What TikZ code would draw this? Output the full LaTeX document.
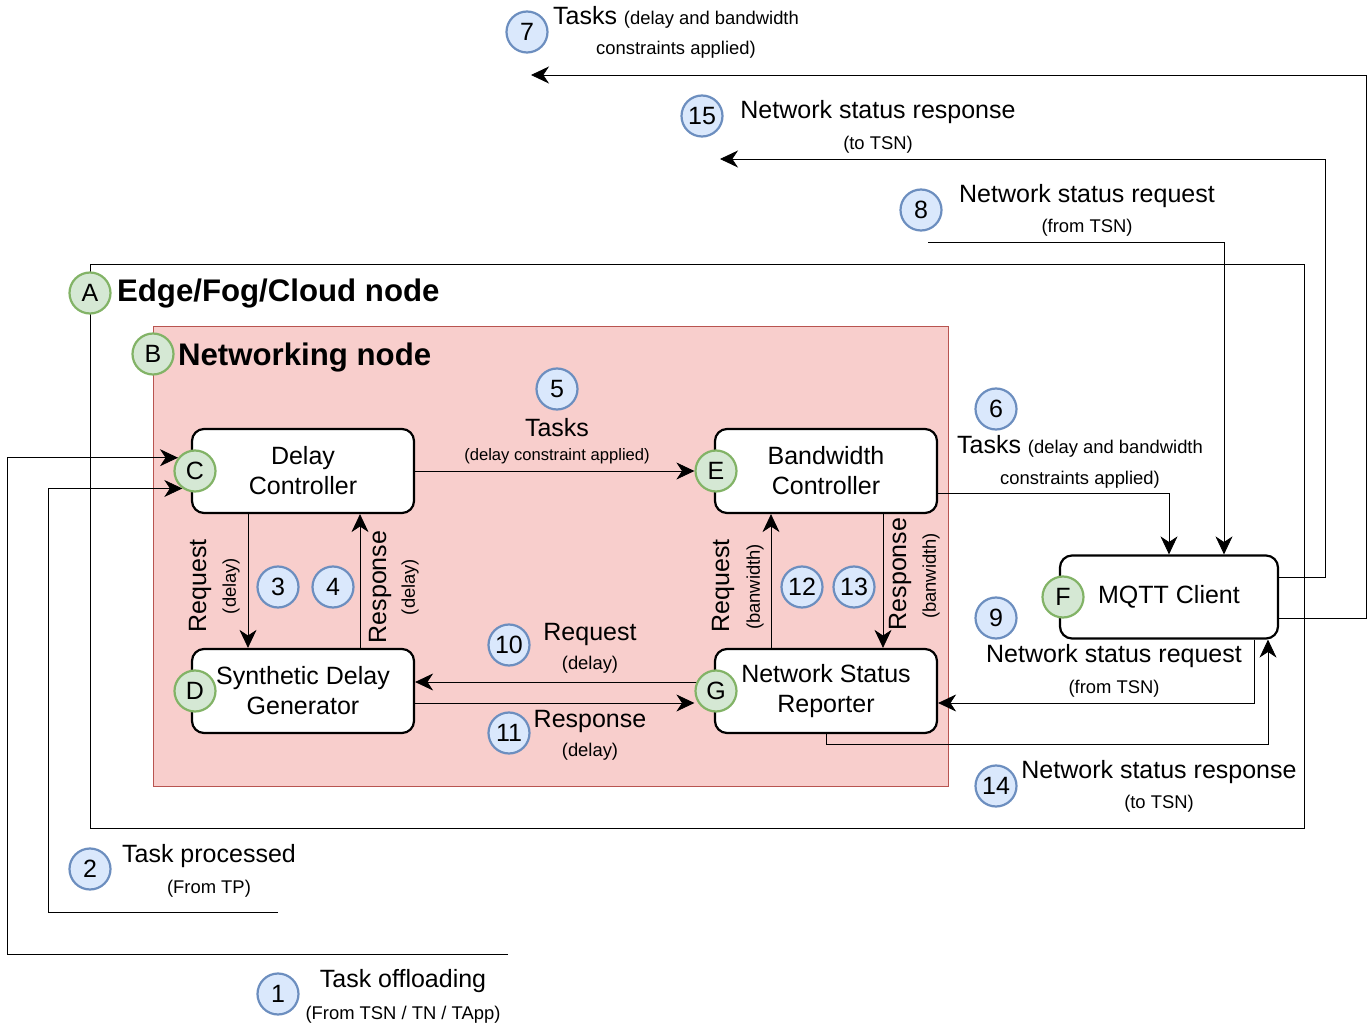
\documentclass[tikz,border=0pt]{standalone}
\usepackage{fontspec}
\setmainfont{Liberation Sans}
\usetikzlibrary{arrows.meta,calc,backgrounds}
\definecolor{numfill}{HTML}{DAE8FC}
\definecolor{numline}{HTML}{6C8EBF}
\definecolor{tagfill}{HTML}{D5E8D4}
\definecolor{tagline}{HTML}{82B366}
\definecolor{netfill}{HTML}{F8CECC}
\definecolor{netline}{HTML}{B85450}
\newcommand{\labelsmall}{\fontsize{9.2}{11}\selectfont}
\begin{document}
\begin{tikzpicture}[x=0.5pt,y=-0.5pt,line width=1.1pt,
    arr/.style={-{Stealth[length=9pt,width=8.5pt,inset=2.8pt]}},
    block/.style={draw,fill=white,rounded corners=6pt,minimum width=111pt,minimum height=42pt,align=center,inner sep=2pt,font=\fontsize{12.5}{15}\selectfont},
    num/.style={circle,draw=numline,fill=numfill,minimum size=20.5pt,inner sep=0pt,font=\fontsize{12.5}{15}\selectfont},
    tag/.style={circle,draw=tagline,fill=tagfill,minimum size=20.5pt,inner sep=0pt,font=\fontsize{12.5}{15}\selectfont},
    lbl/.style={anchor=base,inner sep=0pt,font=\fontsize{12.5}{15}\selectfont},
    sub/.style={anchor=base,inner sep=0pt,font=\labelsmall},
    vlbl/.style={rotate=90,inner sep=0pt,font=\fontsize{12.5}{15}\selectfont},
    vsub/.style={rotate=90,inner sep=0pt,font=\labelsmall},
    title/.style={anchor=base west,inner sep=0pt,font=\fontsize{15.6}{18}\selectfont\bfseries}]
\useasboundingbox (0,0) rectangle (1372,1027);

\node[block] (delayctl) at (303,471) {Delay\\Controller};
\node[block] (synthgen) at (303,691) {Synthetic Delay\\Generator};
\node[block] (bwctl) at (826,471) {Bandwidth\\Controller};
\node[block] (nsr) at (826,691) {Network Status\\Reporter};
\node[block,minimum width=109pt,minimum height=41.5pt] (mqtt) at (1169,597) {MQTT Client};

\node[tag] (tagA) at (90,293) {A};
\node[tag] (tagB) at (153,354) {B};
\node[tag] (tagC) at (195,471) {C};
\node[tag] (tagD) at (195,691) {D};
\node[tag] (tagE) at (716,471) {E};
\node[tag] (tagF) at (1063,597) {F};
\node[tag] (tagG) at (716,691) {G};

\node[title] (titleA) at (116,302) {Edge/Fog/Cloud node};
\node[title] (titleB) at (177,365) {Networking node};

\node[num] (n1) at (278,994) {1};
\node[num] (n2) at (90,869) {2};
\node[num] (n3) at (278,587) {3};
\node[num] (n4) at (333,587) {4};
\node[num] (n5) at (557,389) {5};
\node[num] (n6) at (996,409) {6};
\node[num] (n7) at (527,32) {7};
\node[num] (n8) at (921,210) {8};
\node[num] (n9) at (996,618) {9};
\node[num] (n10) at (509,645) {10};
\node[num] (n11) at (509,733) {11};
\node[num] (n12) at (802,587) {12};
\node[num] (n13) at (854,587) {13};
\node[num] (n14) at (996,786) {14};
\node[num] (n15) at (702,116) {15};

\node[lbl] (l1a) at (403,987) {Task offloading};
\node[sub] (l1b) at (403,1019) {(From TSN / TN / TApp)};
\node[lbl] (l2a) at (209,862) {Task processed};
\node[sub] (l2b) at (209,893) {(From TP)};
\node[vlbl] (l3a) at (200,586) {Request};
\node[vsub] (l3b) at (231,586) {(delay)};
\node[vlbl] (l4a) at (380,587) {Response};
\node[vsub] (l4b) at (410,587) {(delay)};
\node[lbl] (l5a) at (557,437) {Tasks};
\node[sub,font=\fontsize{8.3}{10}\selectfont] (l5b) at (557,460) {(delay constraint applied)};
\node[lbl] (l6a) at (1080,453) {Tasks {\labelsmall(delay and bandwidth}};
\node[sub] (l6b) at (1080,484) {constraints applied)};
\node[lbl] (l7a) at (676,25) {Tasks {\labelsmall(delay and bandwidth}};
\node[sub] (l7b) at (676,55) {constraints applied)};
\node[lbl] (l8a) at (1087,203) {Network status request};
\node[sub] (l8b) at (1087,233) {(from TSN)};
\node[lbl] (l9a) at (1114,662) {Network status request};
\node[sub] (l9b) at (1114,693) {(from TSN)};
\node[lbl] (l10a) at (590,640) {Request};
\node[sub] (l10b) at (590,669) {(delay)};
\node[lbl] (l11a) at (590,727) {Response};
\node[sub] (l11b) at (590,756) {(delay)};
\node[vlbl] (l12a) at (723,586) {Request};
\node[vsub] (l12b) at (755,587) {(banwidth)};
\node[vlbl] (l13a) at (900,574) {Response};
\node[vsub] (l13b) at (931,576) {(banwidth)};
\node[lbl] (l14a) at (1159,778) {Network status response};
\node[sub] (l14b) at (1159,808) {(to TSN)};
\node[lbl] (l15a) at (878,119) {Network status response};
\node[sub] (l15b) at (878,150) {(to TSN)};

\begin{scope}[on background layer]
\draw (90,264) rectangle (1304,828);
\draw[netline,fill=netfill] (153,326) rectangle (948,786);

\coordinate (in1) at (508,954);
\coordinate (in2) at (278,912);
\coordinate (in8) at (928,242);
\coordinate (out7) at (531,75);
\coordinate (out15) at (720,159);
\coordinate (g10) at ($(nsr.west)+(0,-9)$);
\coordinate (d11) at ($(synthgen.east)+(0,12)$);

\draw[arr] (in1) -- (7,954) |- (tagC.142);
\draw[arr] (in2) -- (48,912) |- (tagC.234);
\draw[arr] ($(delayctl.south)+(-55,0)$) -- ($(synthgen.north)+(-55,0)$);
\draw[arr] ($(synthgen.north)+(57,0)$) -- ($(delayctl.south)+(57,0)$);
\draw[arr] (delayctl.east) -- (delayctl.east -| tagE.west);
\draw[arr] ($(bwctl.east)+(0,22)$) -| (mqtt.north);
\draw[arr] ($(mqtt.east)+(0,21)$) -| (1366,75) -- (out7);
\draw[arr] (in8) -| ($(mqtt.north)+(55,0)$);
\draw[arr] ($(mqtt.south)+(85,0)$) |- ($(nsr.east)+(0,12)$);
\draw[arr] (g10) -- (g10 -| synthgen.east);
\draw[arr] (d11) -- (d11 -| tagG.west);
\draw[arr] ($(nsr.north)+(-55,0)$) -- ($(bwctl.south)+(-55,0)$);
\draw[arr] ($(bwctl.south)+(57,0)$) -- ($(nsr.north)+(57,0)$);
\draw[arr] (nsr.south) -- ++(0,10) -| ($(mqtt.south)+(99,0)$);
\draw[arr] ($(mqtt.east)+(0,-20)$) -| (1325,159) -- (out15);
\end{scope}
\end{tikzpicture}
\end{document}
